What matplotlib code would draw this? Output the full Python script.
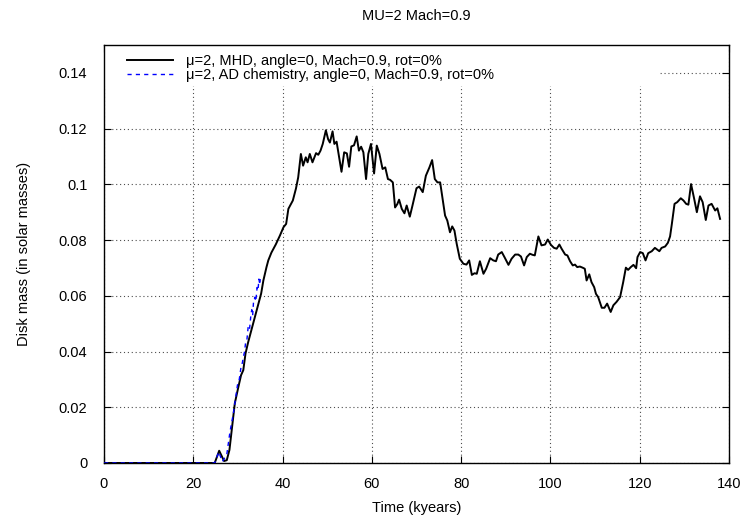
import matplotlib
matplotlib.use('Agg')
import matplotlib.pyplot as plt
from matplotlib.patches import Rectangle
from matplotlib.ticker import FormatStrFormatter, MultipleLocator

plt.rcParams['font.family'] = ['Liberation Sans', 'DejaVu Sans']
plt.rcParams['font.size'] = 10.5

# MHD run (black)
mhd_time = [0, 24.8, 25.8, 26.9, 27.5, 28.1, 28.7, 29.3, 30.1, 30.7, 31.2, 31.7,
            32.3, 33.1, 34.2, 35.2, 35.7, 36.4, 36.8, 37.5, 38.5, 39.4, 40.2,
            40.8, 41.3, 42.3, 43.0, 43.5, 44.1, 44.6, 45.2, 45.6, 46.1, 46.7,
            47.5, 48.0, 48.5, 49.0, 49.7, 50.2, 50.6, 51.2, 51.6, 52.1, 53.2,
            53.8, 54.4, 54.9, 55.4, 56.0, 56.6, 57.1, 57.6, 58.1, 58.7, 59.2,
            59.8, 60.5, 61.1, 61.7, 62.4, 63.0, 63.6, 64.1, 64.7, 65.2, 65.7,
            66.1, 66.7, 67.3, 67.8, 68.5, 69.1, 70.0, 70.6, 71.4, 72.1, 72.9,
            73.5, 74.1, 74.7, 75.3, 75.9, 76.4, 76.9, 77.5, 78.0, 78.5, 79.0,
            79.7, 80.5, 81.2, 81.8, 82.4, 83.0, 83.5, 84.2, 85.0, 85.6, 86.5,
            87.2, 87.8, 88.3, 89.1, 89.7, 90.6, 91.3, 92.1, 92.8, 93.4, 94.1,
            94.7, 95.4, 96.0, 96.5, 97.3, 98.0, 98.8, 99.4, 100.1, 100.8, 101.4,
            102.0, 102.5, 103.3, 103.8, 104.4, 105.0, 105.5, 106.0, 106.6,
            107.2, 107.7, 108.1, 108.7, 109.2, 109.8, 110.2, 110.7, 111.5,
            112.1, 112.7, 113.5, 114.1, 114.8, 115.6, 116.3, 116.9, 117.4,
            118.0, 118.6, 119.2, 119.5, 120.1, 120.7, 121.3, 121.9, 122.7,
            123.4, 124.0, 124.4, 124.9, 125.7, 126.3, 126.8, 127.2, 127.8,
            128.4, 129.2, 129.8, 130.4, 130.9, 131.5, 132.2, 132.8, 133.5,
            134.1, 134.8, 135.4, 136.1, 136.9, 137.4, 138.0]
mhd_mass = [0, 0, 0.0044, 0.0007, 0.001, 0.0047, 0.013, 0.0214, 0.0273, 0.0315,
            0.0333, 0.0393, 0.0434, 0.0482, 0.0548, 0.0608, 0.0655, 0.0703,
            0.0727, 0.0755, 0.0785, 0.0816, 0.0846, 0.0858, 0.0912, 0.0942,
            0.0985, 0.1025, 0.1109, 0.1067, 0.1097, 0.1079, 0.1109, 0.1079,
            0.1112, 0.1106, 0.1121, 0.1145, 0.1194, 0.1162, 0.1150, 0.1190,
            0.1145, 0.1153, 0.1045, 0.1115, 0.1111, 0.1063, 0.1136, 0.1140,
            0.1172, 0.1121, 0.1135, 0.1115, 0.1019, 0.1109, 0.1145, 0.1039,
            0.1139, 0.1109, 0.1055, 0.1061, 0.1019, 0.1016, 0.1007, 0.0917,
            0.0929, 0.0945, 0.0912, 0.0896, 0.0924, 0.0884, 0.0924, 0.0986,
            0.0992, 0.0972, 0.1031, 0.1061, 0.1087, 0.1019, 0.1007, 0.1007,
            0.0942, 0.0888, 0.0870, 0.0828, 0.0849, 0.0834, 0.0787, 0.0733,
            0.0715, 0.0712, 0.0727, 0.0675, 0.0681, 0.0679, 0.0724, 0.0679,
            0.0697, 0.0735, 0.0727, 0.0724, 0.0748, 0.0757, 0.0739, 0.0711,
            0.0733, 0.0748, 0.0748, 0.0741, 0.0709, 0.0739, 0.0751, 0.0747,
            0.0745, 0.0813, 0.0781, 0.0784, 0.0802, 0.0783, 0.0772, 0.0769,
            0.0784, 0.0769, 0.0748, 0.0745, 0.0724, 0.0709, 0.0712, 0.0703,
            0.0705, 0.0701, 0.0697, 0.0655, 0.0677, 0.0649, 0.0631, 0.0607,
            0.0595, 0.0557, 0.0557, 0.0572, 0.0542, 0.0566, 0.0578, 0.0595,
            0.0649, 0.0701, 0.0693, 0.0703, 0.0711, 0.0699, 0.0739, 0.0757,
            0.0753, 0.0727, 0.0753, 0.0760, 0.0772, 0.0765, 0.0760, 0.0772,
            0.0777, 0.0790, 0.0813, 0.0858, 0.0930, 0.0936, 0.0950, 0.0942,
            0.0930, 0.0927, 0.1001, 0.0948, 0.0900, 0.0957, 0.0936, 0.0872,
            0.0924, 0.0930, 0.0906, 0.0914, 0.0876]

# AD chemistry run (blue, short)
ad_time = [0, 24.8, 25.7, 26.5, 27.5, 28.2, 29.0, 29.9, 30.3, 30.7, 31.0, 31.2,
           31.5, 31.7, 32.0, 32.3, 32.6, 32.9, 33.1, 33.3, 33.5, 33.8, 34.0,
           34.3, 34.5, 34.7, 34.9, 35.0]
ad_mass = [0, 0, 0.004, 0.0005, 0.003, 0.011, 0.018, 0.028, 0.030, 0.0345, 0.036,
           0.038, 0.040, 0.043, 0.044, 0.049, 0.048, 0.053, 0.055, 0.053, 0.058,
           0.0595, 0.058, 0.063, 0.062, 0.066, 0.064, 0.066]

fig = plt.figure(figsize=(7.48, 5.19), dpi=100)
ax = fig.add_axes([104 / 748, 56 / 519, 625 / 748, 418 / 519])

ax.plot(mhd_time, mhd_mass, color='black', lw=1.4,
        label=u'\u03bc=2, MHD, angle=0, Mach=0.9, rot=0%', zorder=3)
ax.plot(ad_time, ad_mass, color='blue', lw=1.0, linestyle=(0, (3, 3)),
        label=u'\u03bc=2, AD chemistry, angle=0, Mach=0.9, rot=0%', zorder=4)

ax.set_xlim(0, 140)
ax.set_ylim(0, 0.15)
ax.xaxis.set_major_locator(MultipleLocator(20))
ax.yaxis.set_major_locator(MultipleLocator(0.02))
ax.yaxis.set_major_formatter(FormatStrFormatter('%g'))
ax.tick_params(direction='in', top=True, right=True, length=5, width=0.8)
ax.tick_params(axis='y', pad=12)
ax.tick_params(axis='x', pad=10)
ax.grid(True, linestyle=(0, (1, 2.5)), color='0.3', lw=0.8)
ax.set_axisbelow(True)
for s in ax.spines.values():
    s.set_linewidth(1.0)

# gnuplot key blanks out the grid behind it
ax.add_patch(Rectangle((0, (463 - 86) / 418), (660 - 104) / 625, 1 - (463 - 86) / 418,
                       transform=ax.transAxes, facecolor='white', edgecolor='none',
                       zorder=1))

ax.legend(loc='upper left', bbox_to_anchor=(0.02, 1.003), frameon=False,
          handlelength=3.2, handletextpad=0.9, labelspacing=0.0, borderpad=0.2)

ax.set_xlabel('Time (kyears)', labelpad=7)
ax.set_ylabel('Disk mass (in solar masses)', labelpad=20)
fig.text(416.5 / 748, 1 - 16 / 519, 'MU=2 Mach=0.9', ha='center', va='center')

fig.savefig('out.png', dpi=100)
